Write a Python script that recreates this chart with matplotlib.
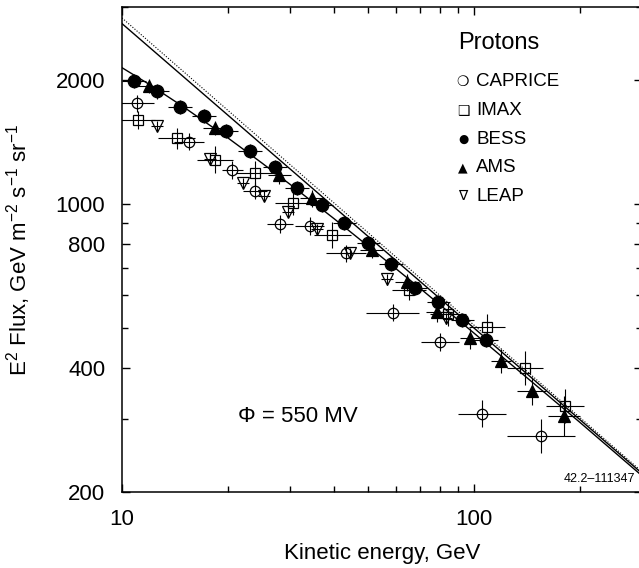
import matplotlib
matplotlib.use("Agg")
import matplotlib.pyplot as plt
from matplotlib.ticker import FixedLocator, FixedFormatter, NullFormatter
import numpy as np

plt.rcParams['font.family'] = ['Liberation Sans', 'DejaVu Sans']
plt.rcParams['mathtext.fontset'] = 'custom'
plt.rcParams['mathtext.rm'] = 'Liberation Sans'
plt.rcParams['mathtext.it'] = 'Liberation Sans:italic'

# ---- measurements: kinetic energy (GeV), E^2 flux, relative errors ----
caprice_e = [11.0, 15.5, 20.6, 23.9, 28.1, 34.1, 43.2, 58.8, 80.1, 105.2, 154.7]
caprice_f = [1756, 1417, 1210, 1078, 894, 884, 759, 545, 462, 310, 273]
caprice_xerr = [0.12, 0.10, 0.07, 0.08, 0.09, 0.10, 0.14, 0.19, 0.13, 0.17, 0.25]
caprice_yerr = [0.05, 0.05, 0.05, 0.05, 0.05, 0.05, 0.05, 0.05, 0.05, 0.08, 0.10]

imax_e = [11.1, 14.3, 18.4, 23.8, 30.7, 39.6, 65.4, 84.5, 108.7, 139.6, 181.4]
imax_f = [1600, 1443, 1282, 1191, 1004, 841, 619, 540, 502, 399, 323]
imax_xerr = [0.12, 0.13, 0.125, 0.13, 0.125, 0.13, 0.12, 0.125, 0.125, 0.125, 0.13]
imax_yerr = [0.05, 0.06, 0.08, 0.07, 0.07, 0.075, 0.06, 0.07, 0.08, 0.10, 0.10]

bess_e = [10.8, 12.6, 14.6, 17.1, 19.8, 23.1, 27.2, 31.4, 36.9, 42.8, 50.1,
          58.1, 68.0, 79.2, 92.6, 108.0]
bess_f = [1992, 1876, 1722, 1636, 1504, 1344, 1232, 1092, 994, 898, 803,
          715, 624, 577, 523, 468]
bess_xerr = [0.08] * 16
bess_yerr = [0.04] * 16

ams_e = [11.9, 18.4, 28.0, 34.6, 51.2, 64.6, 78.7, 97.4, 119.3, 145.9, 180.2]
ams_f = [1935, 1532, 1176, 1033, 775, 646, 548, 472, 416, 352, 306]
ams_xerr = [0.08, 0.08, 0.08, 0.08, 0.08, 0.08, 0.08, 0.07, 0.07, 0.10, 0.11]
ams_yerr = [0.04, 0.04, 0.05, 0.05, 0.05, 0.05, 0.06, 0.06, 0.07, 0.08, 0.12]

leap_e = [12.6, 17.8, 22.1, 25.3, 29.7, 35.7, 44.4, 56.7, 83.1]
leap_f = [1546, 1288, 1125, 1045, 958, 868, 760, 656, 528]
leap_xerr = [0.04] * 9
leap_yerr = [0.03] * 9

# ---- fitted spectra ----
fit_e = [10, 300]
fit_f = [2742, 222]
fit2_f = [2830, 224]
mod_e = [10, 12, 15, 20, 25, 30, 40, 50, 70, 100, 150, 200, 300]
mod_f = [2143, 1948, 1718, 1447, 1257, 1117, 922, 791, 626, 486, 363, 295, 219]


def rel_err(vals, frac):
    vals = np.asarray(vals, float)
    frac = np.asarray(frac, float)
    return [vals - vals / (1 + frac), vals * frac]


fig = plt.figure(figsize=(6.39, 5.68), dpi=100)
ax = fig.add_axes([0.1909, 0.1338, 0.8138, 0.853])
ax.set_xscale('log')
ax.set_yscale('log')

ax.plot(fit_e, fit2_f, color='k', lw=0.8, ls=(0, (1, 1.5)), zorder=2)
ax.plot(fit_e, fit_f, color='k', lw=1.0, zorder=2)
ax.plot(mod_e, mod_f, color='k', lw=1.0, zorder=2)

series = [
    (caprice_e, caprice_f, caprice_xerr, caprice_yerr, 'o', 'none', 7.5),
    (imax_e, imax_f, imax_xerr, imax_yerr, 's', 'none', 7.5),
    (leap_e, leap_f, leap_xerr, leap_yerr, 'v', 'none', 8),
    (ams_e, ams_f, ams_xerr, ams_yerr, '^', 'k', 8),
    (bess_e, bess_f, bess_xerr, bess_yerr, 'o', 'k', 9),
]
for e, f, xe, ye, m, fc, ms in series:
    ax.errorbar(e, f, xerr=rel_err(e, xe), yerr=rel_err(f, ye), fmt=m,
                mfc=fc, mec='k', mew=0.9, ms=ms, ecolor='k', elinewidth=0.8,
                capsize=0, zorder=3)

ax.set_xlim(10, 300)
ax.set_ylim(200, 3000)

ax.xaxis.set_major_locator(FixedLocator([10, 100]))
ax.xaxis.set_major_formatter(FixedFormatter(['10', '100']))
ax.xaxis.set_minor_locator(FixedLocator([20, 30, 40, 50, 60, 70, 80, 90, 200]))
ax.xaxis.set_minor_formatter(NullFormatter())
ax.yaxis.set_major_locator(FixedLocator([200, 400, 800, 1000, 2000]))
ax.yaxis.set_major_formatter(FixedFormatter(['200', '400', '800', '1000', '2000']))
ax.yaxis.set_minor_locator(FixedLocator([300, 500, 600, 700, 900, 3000]))
ax.yaxis.set_minor_formatter(NullFormatter())

ax.tick_params(which='both', direction='in', top=True, right=True,
               labelsize=16, width=1.0)
ax.tick_params(which='major', length=6, pad=12)
ax.tick_params(which='minor', length=4)
for s in ax.spines.values():
    s.set_linewidth(1.1)

ax.set_xlabel('Kinetic energy, GeV', fontsize=16)
ax.xaxis.set_label_coords(0.5, -0.105)
ax.set_ylabel(r'E$^{2}$ Flux, GeV m$^{-2}$ s$^{-1}$ sr$^{-1}$', fontsize=16)
ax.yaxis.set_label_coords(-0.171, 0.5)

# legend written as text
fig.text(458 / 639, 1 - 43 / 568, 'Protons', fontsize=17, va='center')
legend_rows = [('❍', 'CAPRICE', 10), ('❑', 'IMAX', 10), ('●', 'BESS', 8.5),
               ('▲', 'AMS', 9), ('∇', 'LEAP', 10)]
for i, (sym, name, sz) in enumerate(legend_rows):
    yy = 1 - (82 + 28.6 * i) / 568
    fig.text(463 / 639, yy, sym, fontsize=sz, ha='center', va='center',
             family=['DejaVu Sans'])
    fig.text(476 / 639, yy, name, fontsize=13.5, va='center')

fig.text(238 / 639, 1 - 417 / 568, 'Φ = 550 MV', fontsize=16, va='center')
fig.text(635 / 639, 1 - 479 / 568, '42.2–111347', fontsize=9, ha='right',
         va='center')

fig.savefig('out.png', dpi=100)
